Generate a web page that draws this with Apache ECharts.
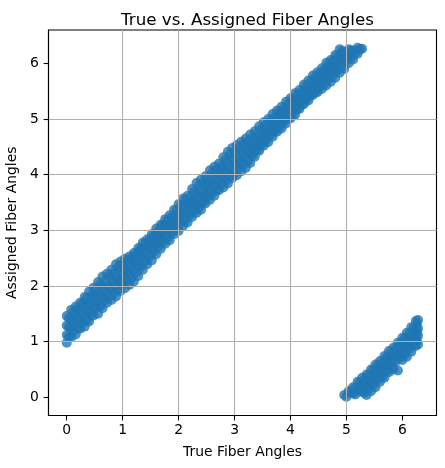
<!DOCTYPE html>
<html>
<head>
<meta charset="utf-8">
<script src="https://cdn.jsdelivr.net/npm/echarts@6/dist/echarts.min.js"></script>
<style>
  html, body { margin: 0; padding: 0; background: #fff; }
  #chart { width: 445px; height: 468px; }
</style>
</head>
<body>
<div id="chart"></div>
<script>
// true angle (x) for the four rows sampled across the band
const trueAngle = [0.00,0.08,0.16,0.24,0.32,0.40,0.48,0.56,0.64,0.72,0.80,0.88,0.96,1.04,1.12,1.20,1.28,1.36,1.44,1.52,
  1.60,1.68,1.76,1.84,1.92,2.00,2.08,2.16,2.24,2.32,2.40,2.48,2.56,2.64,2.72,2.80,2.88,2.96,3.04,3.12,
  3.20,3.28,3.36,3.44,3.52,3.60,3.68,3.76,3.84,3.92,4.00,4.08,4.16,4.24,4.32,4.40,4.48,4.56,4.64,4.72,
  4.80,4.88,4.96,5.04,5.12,5.20,5.28,5.36,5.44,5.52,5.60,5.68,5.76,5.84,5.92,6.00,6.08,6.16,6.24,6.28];

// assigned angle (y), lower edge of the band -> upper edge
const assignedLow = [0.98,1.08,1.13,1.23,1.27,1.36,1.47,1.50,1.60,1.70,1.75,1.81,1.91,1.96,2.02,2.08,2.18,2.29,2.39,2.46,
  2.57,2.67,2.76,2.82,2.93,2.99,3.08,3.14,3.24,3.31,3.37,3.48,3.55,3.62,3.72,3.77,3.84,3.94,3.99,4.06,
  4.12,4.21,4.32,4.43,4.52,4.58,4.68,4.77,4.83,4.92,5.01,5.07,5.18,5.27,5.33,5.43,5.48,5.54,5.60,5.67,
  5.74,5.83,5.90,6.00,6.07,6.17,6.26,0.04,0.11,0.18,0.28,0.35,0.45,0.50,0.48,0.67,0.73,0.82,0.92,0.95];
const assignedMidLow = [1.12,1.24,1.29,1.39,1.44,1.54,1.65,1.69,1.79,1.84,1.94,1.99,2.09,2.14,2.20,2.31,2.37,2.48,2.58,2.65,
  2.76,2.82,2.91,3.01,3.06,3.16,3.21,3.31,3.41,3.46,3.52,3.63,3.69,3.80,3.86,3.92,4.02,4.07,4.17,4.22,
  4.32,4.37,4.47,4.57,4.64,4.74,4.79,4.89,4.96,5.02,5.13,5.19,5.30,5.36,5.42,5.53,5.59,5.65,5.76,5.82,
  5.88,5.98,6.08,6.13,6.23,6.28,0.10,0.20,0.25,0.35,0.40,0.50,0.60,0.65,0.75,0.80,0.90,1.00,1.05,1.11];
const assignedMidHigh = [1.29,1.40,1.46,1.57,1.63,1.68,1.80,1.86,1.97,2.01,2.11,2.16,2.26,2.31,2.41,2.46,2.56,2.66,2.73,2.83,
  2.88,2.98,3.08,3.13,3.23,3.30,3.41,3.47,3.53,3.64,3.70,3.81,3.87,3.98,4.04,4.10,4.21,4.27,4.33,4.42,
  4.48,4.54,4.63,4.69,4.78,4.84,4.93,4.99,5.09,5.16,5.22,5.32,5.39,5.49,5.54,5.64,5.71,5.77,5.87,5.94,
  6.04,6.10,6.19,6.25,0.07,0.14,0.24,0.29,0.39,0.46,0.56,0.61,0.71,0.78,0.88,0.93,1.03,1.10,1.20,1.23];
const assignedHigh = [1.46,1.57,1.63,1.70,1.80,1.90,1.97,2.07,2.17,2.22,2.29,2.39,2.44,2.49,2.53,2.59,2.68,2.78,2.84,2.93,
  3.03,3.10,3.20,3.27,3.37,3.47,3.57,3.62,3.74,3.85,3.91,3.97,4.08,4.14,4.20,4.31,4.41,4.48,4.53,4.59,
  4.65,4.72,4.78,4.87,4.94,5.00,5.09,5.15,5.22,5.31,5.37,5.46,5.52,5.62,5.69,5.78,5.84,5.91,6.01,6.06,
  6.15,6.25,0.04,0.11,0.18,0.28,0.35,0.41,0.50,0.59,0.65,0.74,0.83,0.89,0.98,1.07,1.16,1.26,1.37,1.39];

// second, staggered set of samples sitting between the rows above
const trueAngleB = [0.04,0.12,0.20,0.28,0.36,0.44,0.52,0.60,0.68,0.76,0.84,0.92,1.00,1.08,1.16,1.24,1.32,1.40,1.48,1.56,
  1.64,1.72,1.80,1.88,1.96,2.04,2.12,2.20,2.28,2.36,2.44,2.52,2.60,2.68,2.76,2.84,2.92,3.00,3.08,3.16,
  3.24,3.32,3.40,3.48,3.56,3.64,3.72,3.80,3.88,3.96,4.04,4.12,4.20,4.28,4.36,4.44,4.52,4.60,4.68,4.76,
  4.84,4.92,5.00,5.08,5.16,5.24,5.32,5.40,5.48,5.56,5.64,5.72,5.80,5.88,5.96,6.04,6.12,6.20,6.26];
const assignedB1 = [1.09,1.19,1.24,1.34,1.39,1.49,1.60,1.64,1.74,1.81,1.87,1.94,2.04,2.09,2.15,2.24,2.34,2.44,2.53,2.62,
  2.71,2.80,2.86,2.96,3.03,3.13,3.18,3.28,3.35,3.41,3.50,3.60,3.67,3.73,3.82,3.88,3.97,4.03,4.12,4.18,
  4.25,4.35,4.44,4.54,4.61,4.71,4.78,4.85,4.95,5.02,5.08,5.18,5.25,5.35,5.42,5.48,5.57,5.63,5.72,5.78,
  5.87,5.94,6.04,6.10,6.19,6.25,0.08,0.15,0.22,0.32,0.37,0.47,0.54,0.64,0.71,0.77,0.87,0.94,1.02];
const assignedB2 = [1.26,1.36,1.41,1.51,1.56,1.66,1.77,1.81,1.91,1.96,2.06,2.11,2.21,2.26,2.33,2.43,2.52,2.62,2.69,2.79,
  2.86,2.96,3.03,3.13,3.18,3.28,3.35,3.45,3.50,3.60,3.65,3.75,3.82,3.92,3.99,4.05,4.14,4.20,4.29,4.35,
  4.42,4.49,4.59,4.66,4.75,4.81,4.90,4.96,5.06,5.13,5.20,5.30,5.37,5.47,5.52,5.62,5.69,5.75,5.85,5.92,
  6.02,6.08,6.17,6.23,0.05,0.12,0.22,0.27,0.37,0.44,0.54,0.59,0.69,0.76,0.86,0.91,1.01,1.08,1.16];
const assignedB3 = [1.42,1.53,1.59,1.68,1.78,1.83,1.93,2.03,2.08,2.18,2.23,2.33,2.38,2.44,2.50,2.57,2.67,2.76,2.82,2.92,
  2.99,3.09,3.18,3.24,3.35,3.44,3.54,3.59,3.69,3.79,3.85,3.92,4.03,4.09,4.15,4.26,4.36,4.41,4.47,4.54,
  4.60,4.66,4.73,4.82,4.88,4.97,5.03,5.12,5.18,5.27,5.34,5.43,5.49,5.59,5.66,5.75,5.81,5.88,5.98,6.04,
  6.13,6.22,0.01,0.08,0.17,0.26,0.32,0.39,0.49,0.56,0.63,0.72,0.81,0.87,0.96,1.05,1.14,1.24,1.31];

const xTicks = [0, 1, 2, 3, 4, 5, 6];
const yTicks = [0, 1, 2, 3, 4, 5, 6];

const points = [];
[assignedLow, assignedMidLow, assignedMidHigh, assignedHigh].forEach(row => {
  row.forEach((y, i) => points.push([trueAngle[i], y]));
});
[assignedB1, assignedB2, assignedB3].forEach(row => {
  row.forEach((y, i) => points.push([trueAngleB[i], y]));
});

const chart = echarts.init(document.getElementById('chart'));
const axisCommon = (ticks) => ({
  type: 'value',
  z: 5,
  axisLine: { show: true, onZero: false, lineStyle: { color: '#000', width: 1.1 } },
  axisTick: { show: true, length: 4.9, customValues: ticks, lineStyle: { color: '#000', width: 1.1 } },
  axisLabel: { customValues: ticks, color: '#000', fontSize: 13.9, fontFamily: 'DejaVu Sans' },
  splitLine: { show: true, showMinLine: false, showMaxLine: false, lineStyle: { color: '#b0b0b0', width: 1.1 } },
  nameLocation: 'middle',
  nameTextStyle: { color: '#000', fontSize: 13.9, fontFamily: 'DejaVu Sans' }
});

const xAxis = axisCommon(xTicks);
xAxis.min = -0.326; xAxis.max = 6.61;
xAxis.name = 'True Fiber Angles';
xAxis.nameGap = 30;
xAxis.axisLabel.margin = 8;

const yAxis = axisCommon(yTicks);
yAxis.min = -0.327; yAxis.max = 6.598;
yAxis.name = 'Assigned Fiber Angles';
yAxis.nameGap = 19;
yAxis.axisLabel.margin = 9.7;

const option = {
  animation: false,
  textStyle: { fontFamily: 'DejaVu Sans' },
  title: {
    text: 'True vs. Assigned Fiber Angles',
    left: 242.5, top: 7, textAlign: 'center',
    textStyle: { fontSize: 16.7, fontWeight: 'normal', color: '#000', fontFamily: 'DejaVu Sans' }
  },
  grid: {
    left: 48.5, right: 8.5, top: 30, bottom: 52.5,
    show: true, borderColor: '#000', borderWidth: 1.1,
    containLabel: false, outerBoundsMode: 'none'
  },
  xAxis: xAxis,
  yAxis: yAxis,
  series: [{
    type: 'scatter',
    z: 2,
    symbolSize: 10,
    data: points,
    itemStyle: { color: '#1f77b4', opacity: 0.8 }
  }]
};
option && chart.setOption(option);
</script>
</body>
</html>
